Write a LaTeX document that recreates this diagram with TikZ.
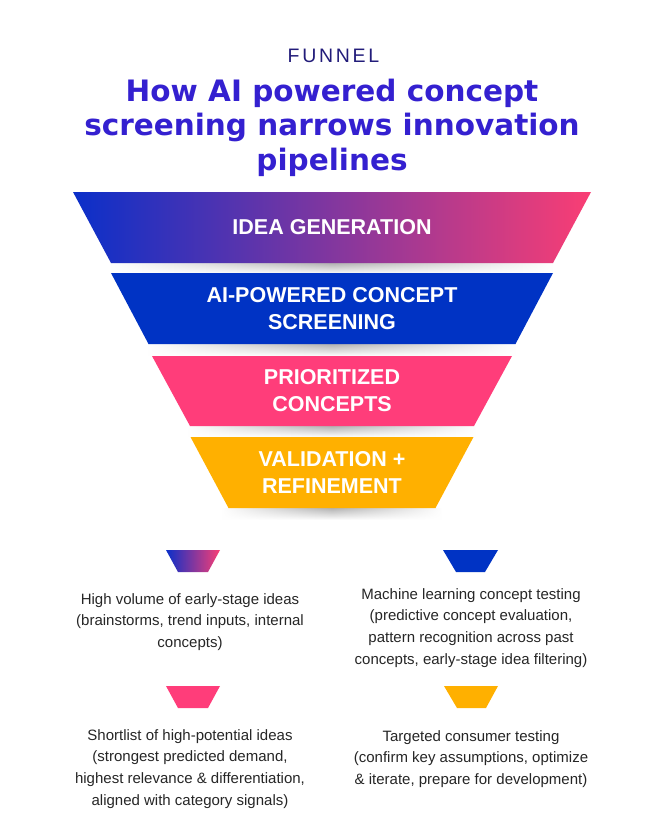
\documentclass[tikz,border=0pt]{standalone}
\usepackage{fontspec}
\setmainfont{Liberation Sans}
\newfontfamily\titlefont{DejaVu Sans}
\newfontfamily\kickerfont[LetterSpace=14]{Liberation Sans}
\usetikzlibrary{fadings}
\definecolor{cblue}{HTML}{0033C4}
\definecolor{cpink}{HTML}{FF3D7A}
\definecolor{camber}{HTML}{FFB000}
\definecolor{gblue}{HTML}{0A2FC9}
\definecolor{gpink}{HTML}{FA3E74}
\definecolor{ctitle}{HTML}{3420D0}
\definecolor{cnavy}{HTML}{221C7A}
\definecolor{ctext}{HTML}{262626}
\tikzfading[name=sidefade, left color=transparent!100, right color=transparent!100, middle color=transparent!0]
\begin{document}
\begin{tikzpicture}[x=1pt,y=-1pt,
  bandtext/.style={text=white, inner sep=0pt, font=\bfseries\fontsize{21.5}{27}\selectfont, align=center},
  desc/.style={text=ctext, inner sep=0pt, anchor=north, font=\fontsize{15}{21.7}\selectfont, align=center},
  titleline/.style={text=ctitle, inner sep=0pt, anchor=base, font=\titlefont\bfseries\fontsize{29.5}{34.5}\selectfont},
  shadowbar/.style={top color=black!30, bottom color=white, path fading=sidefade}]
\fill[white] (0,0) rectangle (664,830);

% heading
\node[text=cnavy, inner sep=0pt, anchor=base, font=\kickerfont\fontsize{19.5}{22}\selectfont] (kicker) at (333.5,62) {FUNNEL};
\node[titleline] (title1) at (332,101) {How AI powered concept};
\node[titleline] (title2) at (332,135.5) {screening narrows innovation};
\node[titleline] (title3) at (332,170) {pipelines};

% shadows under the bands
\shade[shadowbar] (111,263) rectangle (553,274);
\shade[shadowbar] (148,344) rectangle (516,356);
\shade[shadowbar] (188,426) rectangle (476,437);
\shade[shadowbar] (222,508) rectangle (442,520);

% funnel bands
\shade[left color=gblue, right color=gpink] (73,192) -- (591,192) -- (553,263) -- (111,263) -- cycle;
\fill[cblue] (111,273) -- (553,273) -- (515.5,344) -- (148.5,344) -- cycle;
\fill[cpink] (152,356) -- (512,356) -- (474,426) -- (190,426) -- cycle;
\fill[camber] (190.5,437) -- (473.5,437) -- (435.5,508) -- (228.5,508) -- cycle;

\node[bandtext] (band1) at (332,227) {IDEA GENERATION};
\node[bandtext] (band2) at (332,308.5) {AI-POWERED CONCEPT\\SCREENING};
\node[bandtext] (band3) at (332,391) {PRIORITIZED\\CONCEPTS};
\node[bandtext] (band4) at (332,472.5) {VALIDATION +\\REFINEMENT};

% legend icons
\shade[left color=gblue, right color=gpink] (166,550) -- (220,550) -- (208,572) -- (178,572) -- cycle;
\fill[cblue] (443,550) -- (498,550) -- (485,572) -- (456,572) -- cycle;
\fill[cpink] (166,686) -- (220,686) -- (208,708) -- (178,708) -- cycle;
\fill[camber] (444,686) -- (498,686) -- (486,708) -- (457,708) -- cycle;

% legend texts
\node[desc] (desc1) at (190,593.2) {High volume of early-stage ideas\\(brainstorms, trend inputs, internal\\concepts)};
\node[desc] (desc2) at (471,588.2) {Machine learning concept testing\\(predictive concept evaluation,\\pattern recognition across past\\concepts, early-stage idea filtering)};
\node[desc] (desc3) at (190,729.2) {Shortlist of high-potential ideas\\(strongest predicted demand,\\highest relevance \& differentiation,\\aligned with category signals)};
\node[desc] (desc4) at (471,730.2) {Targeted consumer testing\\(confirm key assumptions, optimize\\\& iterate, prepare for development)};
\end{tikzpicture}
\end{document}
